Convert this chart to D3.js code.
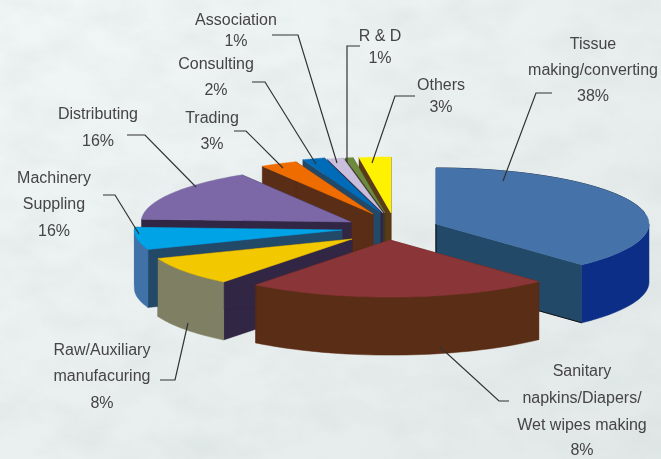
<!DOCTYPE html>
<html><head><meta charset="utf-8">
<script src="https://cdn.jsdelivr.net/npm/d3@7/dist/d3.min.js"></script>
<style>html,body{margin:0;padding:0;background:#e9efef}svg{display:block}text{font-family:"Liberation Sans",Arial,sans-serif;font-size:16px;fill:#454545;text-anchor:middle}</style>
</head><body><svg id="c" width="661" height="459"></svg>
<script>
// Data
const categories = ["Tissue making/converting","Sanitary napkins/Diapers/Wet wipes making","Raw/Auxiliary manufacuring","Machinery Suppling","Distributing","Trading","Consulting","Association","R & D","Others"];
const printedPercent = [38,8,8,16,16,3,2,1,1,3];      // as printed on the labels
const drawnShare = [38,22.6,8.6,6.6,15.5,2.8,1.7,1.2,0.6,2.4]; // slice sizes as drawn

// Styles / layout
const topColors   = ["#4472a8","#8a3538","#f2c800","#00a3e6","#7b68a6","#ee6c00","#006cb8","#c9bedc","#6d8b3e","#fff200"];
const outerColors = ["#0b2e87","#5a2d15","#7f7f63","#3f72a8","#312644","#5a2d15","#234868","#312644","#4a4a2a","#5a3a16"];
const wallColors  = ["#234868","#5a2d15","#312644","#234868","#312644","#5a2d15","#234868","#312644","#3f3a24","#5a3a16"];
const pull = [[46,-2],[0,14],[-38,13],[-48,4],[-39,-4],[-17,-12],[-10,-14],[-7,-13],[-5,-13],[1,-13]];
const radiusFactor = [1,1.02,0.975,0.975,0.985,1,1,1,1,1];
const paintOrder = [9,8,7,6,5,4,3,2,0,1];
const W=661,H=459,CX=390,CY=226,RX=213,RY=56,DEPTH=58;
const labelLines = [
 ["Tissue","making/converting","38%"],["Sanitary","napkins/Diapers/","Wet wipes making","8%"],
 ["Raw/Auxiliary","manufacuring","8%"],["Machinery","Suppling","16%"],["Distributing","16%"],["Trading","3%"],
 ["Consulting","2%"],["Association","1%"],["R & D","1%"],["Others","3%"]];
const labelX = [593,582,102,54,98,212,216,236,380,441];
const labelY = [[49,75,101],[376,403,430,455],[355,381,408],[183,209,236],[119,146],[123,149],[69,95],[25,46],[41,63],[90,112]];
const leaders = [
 [[552,93],[536,93],[503,181]],[[509,401],[499,401],[440,347]],[[160,380],[175,380],[188,323]],
 [[103,195],[115,195],[139,234]],[[127,135],[145,135],[196,187]],[[234,131],[246,131],[283,168]],
 [[252,82],[265,82],[316,164]],[[272,35],[298,35],[337,163]],[[360,46],[347,46],[347,162]],[[415,96],[395,96],[372,163]]];

const svg=d3.select("#c");
const defs=svg.append("defs");
const g=defs.append("linearGradient").attr("id","bg").attr("x1",0).attr("y1",0).attr("x2",1).attr("y2",1);
g.append("stop").attr("offset",0).attr("stop-color","#f1f6f6");
g.append("stop").attr("offset",1).attr("stop-color","#e2e9e8");
const f=defs.append("filter").attr("id","mottle").attr("x",0).attr("y",0).attr("width","100%").attr("height","100%");
f.append("feTurbulence").attr("type","fractalNoise").attr("baseFrequency","0.018 0.03").attr("numOctaves",4).attr("seed",7);
f.append("feColorMatrix").attr("values","0 0 0 0 0.55  0 0 0 0 0.6  0 0 0 0 0.6  0.9 0 0 0 -0.33");
const soft=defs.append("filter").attr("id","soft").attr("x",0).attr("y",0).attr("width",W).attr("height",H).attr("filterUnits","userSpaceOnUse");
soft.append("feGaussianBlur").attr("stdDeviation",0.4);
svg.append("rect").attr("width",W).attr("height",H).attr("fill","url(#bg)");
svg.append("rect").attr("width",W).attr("height",H).attr("filter","url(#mottle)").attr("opacity",.45);

const xs=d3.scaleLinear().domain([-1,1]).range([CX-RX,CX+RX]);
const ys=d3.scaleLinear().domain([-1,1]).range([CY-RY,CY+RY]);
const slices=d3.pie().sort(null).startAngle(-Math.PI/2).endAngle(1.5*Math.PI)(drawnShare);
const pt=(i,t,d=0)=>[xs(Math.cos(t)*radiusFactor[i])+pull[i][0],ys(Math.sin(t)*radiusFactor[i])+pull[i][1]+d];
const apex=(i,d=0)=>[xs(0)+pull[i][0],ys(0)+pull[i][1]+d];
const line=d3.line();
const arcPts=(i,a,b,d=0)=>d3.range(0,41).map(k=>pt(i,a+(b-a)*k/40,d));
const root=svg.append("g").attr("filter","url(#soft)");
const pie=root.append("g");
paintOrder.forEach(i=>{
  const s=slices[i],a=s.startAngle,b=s.endAngle,sg=pie.append("g");
  [a,b].forEach(t=>{
    sg.append("path").attr("fill",wallColors[i]).attr("stroke",wallColors[i]).attr("stroke-width",.5)
      .attr("d",line([apex(i),pt(i,t),pt(i,t,DEPTH),apex(i,DEPTH)])+"Z");
  });
  if(i===0){ // thin dark shadow edges seen on the blue slice
    sg.append("path").attr("fill","none").attr("stroke","#111").attr("stroke-width",1)
      .attr("d",line([apex(i),apex(i,DEPTH),pt(i,b,DEPTH)]));
    sg.append("path").attr("fill","none").attr("stroke","#1c2a3a").attr("stroke-width",1)
      .attr("d",line(arcPts(i,a,-0.2)));
  }
  const lo=Math.max(a,0),hi=Math.min(b,Math.PI);
  if(hi>lo){
    const up=arcPts(i,lo,hi),dn=arcPts(i,hi,lo,DEPTH);
    sg.append("path").attr("fill",outerColors[i]).attr("stroke",outerColors[i]).attr("stroke-width",.5)
      .attr("d",line(up.concat(dn))+"Z");
  }
  sg.append("path").attr("fill",topColors[i]).attr("stroke",topColors[i]).attr("stroke-width",.5)
    .attr("d",line([apex(i)].concat(arcPts(i,a,b)))+"Z");
});
root.append("g").selectAll("path").data(leaders).join("path").attr("fill","none").attr("stroke","#333").attr("stroke-width",1.2).attr("d",d=>line(d));
labelLines.forEach((ls,i)=>{
  ls.forEach((t,j)=>root.append("text").attr("x",labelX[i]).attr("y",labelY[i][j]).text(t));
});
</script></body></html>
